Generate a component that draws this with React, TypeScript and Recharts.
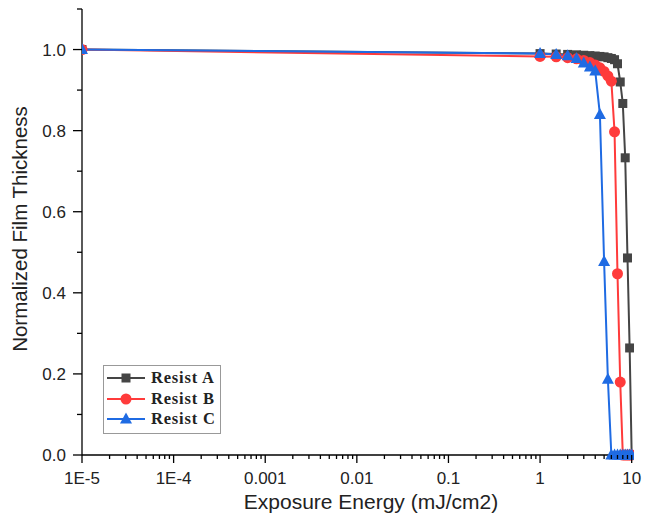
import { LineChart, Line, XAxis, YAxis, Legend } from "recharts"

// exposure energy (mJ/cm2)
const energy = [1e-5, 1, 1.5, 2, 2.5, 3, 3.5, 4, 4.5, 5, 5.5, 6, 6.5, 7, 7.5, 8, 8.5, 9, 9.5, 10]

const resistA = [1, 0.99, 0.989, 0.988, 0.987, 0.986, 0.985, 0.984, 0.983, 0.982, 0.98, 0.978, 0.975, 0.965, 0.92, 0.867, 0.733, 0.486, 0.264, 0]
const resistB = [1, 0.983, 0.982, 0.98, 0.977, 0.973, 0.968, 0.962, 0.955, 0.946, 0.935, 0.922, 0.797, 0.447, 0.18, 0, 0, 0, 0, 0]
const resistC = [1, 0.99, 0.988, 0.985, 0.978, 0.967, 0.957, 0.947, 0.84, 0.477, 0.187, 0, 0, 0, 0, 0, 0, 0, 0, 0]

const majorTicks = [1e-5, 1e-4, 1e-3, 0.01, 0.1, 1, 10]
const majorLabels = ["1E-5", "1E-4", "0.001", "0.01", "0.1", "1", "10"]
const yTicks = [0, 0.1, 0.2, 0.3, 0.4, 0.5, 0.6, 0.7, 0.8, 0.9, 1.0, 1.1]

const COLOR_A = "#454545"
const COLOR_B = "#ff3b3b"
const COLOR_C = "#1f6be3"
const SANS = "'Liberation Sans', Arial, sans-serif"
const SERIF = "'Liberation Serif', 'Times New Roman', serif"

const data = energy.map((e, i) => ({ e, a: resistA[i], b: resistB[i], c: resistC[i] }))

// minor log ticks 1..9 per decade
const xTicks: number[] = []
majorTicks.slice(0, -1).forEach((d) => {
  for (let k = 1; k < 10; k++) xTicks.push(Number((k * d).toPrecision(3)))
})
xTicks.push(10)

function majorLabel(v: number) {
  const i = majorTicks.findIndex((m) => Math.abs(v - m) / m < 1e-6)
  return i >= 0 ? majorLabels[i] : null
}

function XTick(props: any) {
  const { x, y, payload } = props
  const label = majorLabel(payload.value)
  return (
    <g>
      <line x1={x} y1={y} x2={x} y2={y + (label ? 8 : 4)} stroke="#000" strokeWidth={1.3} />
      {label && (
        <text x={x} y={y + 29} textAnchor="middle" fontSize={17} fontFamily={SANS} fill="#222">
          {label}
        </text>
      )}
    </g>
  )
}

function YTick(props: any) {
  const { x, y, payload } = props
  const i = Math.round(payload.value * 10)
  const major = i % 2 === 0
  return (
    <g>
      <line x1={x} y1={y} x2={x - (major ? 9 : 5)} y2={y} stroke="#000" strokeWidth={1.3} />
      {major && (
        <text x={x - 16} y={y + 6} textAnchor="end" fontSize={17} fontFamily={SANS} fill="#222">
          {(i / 10).toFixed(1)}
        </text>
      )}
    </g>
  )
}

const squareDot = (props: any) => (
  <rect key={`a${props.index}`} x={props.cx - 4.5} y={props.cy - 4.5} width={9} height={9} fill={COLOR_A} />
)
const circleDot = (props: any) => (
  <circle key={`b${props.index}`} cx={props.cx} cy={props.cy} r={5.5} fill={COLOR_B} />
)
const triangleDot = (props: any) => (
  <polygon
    key={`c${props.index}`}
    points={`${props.cx},${props.cy - 6.5} ${props.cx - 6},${props.cy + 4.5} ${props.cx + 6},${props.cy + 4.5}`}
    fill={COLOR_C}
  />
)

const series = [
  { name: "Resist A", color: COLOR_A, shape: "square" },
  { name: "Resist B", color: COLOR_B, shape: "circle" },
  { name: "Resist C", color: COLOR_C, shape: "triangle" },
]

function LegendBox() {
  return (
    <div
      style={{
        border: "1px solid #999",
        background: "#fff",
        width: 116,
        padding: "2px 0 3px 0",
      }}
    >
      {series.map((s) => (
        <div key={s.name} style={{ display: "flex", alignItems: "center", height: 20.5 }}>
          <svg width={44} height={14} style={{ marginLeft: 2 }}>
            <line x1={1} y1={7} x2={39} y2={7} stroke={s.color} strokeWidth={2} />
            {s.shape === "square" && <rect x={15.5} y={2.5} width={9} height={9} fill={s.color} />}
            {s.shape === "circle" && <circle cx={20} cy={7} r={5.5} fill={s.color} />}
            {s.shape === "triangle" && <polygon points="20,0.5 14,11.5 26,11.5" fill={s.color} />}
          </svg>
          <span
            style={{
              fontFamily: SERIF,
              fontWeight: "bold",
              fontSize: 16.5,
              letterSpacing: 0.8,
              color: "#222",
              marginLeft: 1,
              whiteSpace: "nowrap",
            }}
          >
            {s.name}
          </span>
        </div>
      ))}
    </div>
  )
}

export default function App() {
  return (
    <div style={{ position: "absolute", left: 0, top: 0, width: 645, height: 526, background: "#fff" }}>
      <LineChart width={645} height={526} data={data} margin={{ top: 9, right: 11, left: 0, bottom: 0 }}>
        <XAxis
          dataKey="e"
          type="number"
          scale="log"
          domain={[1e-5, 10.6]}
          allowDataOverflow
          ticks={xTicks}
          interval={0}
          height={71}
          tickSize={0}
          tickMargin={0}
          tickLine={false}
          tick={<XTick />}
          axisLine={{ stroke: "#000", strokeWidth: 1.3 }}
          label={(p: any) => {
            const vb = p.viewBox
            return (
              <text
                x={vb.x + vb.width / 2 + 13}
                y={vb.y + 54}
                textAnchor="middle"
                fontSize={21}
                fontFamily={SANS}
                fill="#222"
              >
                Exposure Energy (mJ/cm2)
              </text>
            )
          }}
        />
        <YAxis
          type="number"
          domain={[0, 1.1]}
          ticks={yTicks}
          interval={0}
          width={82}
          tickSize={0}
          tickMargin={0}
          tickLine={false}
          tick={<YTick />}
          axisLine={{ stroke: "#000", strokeWidth: 1.3 }}
          label={{
            value: "Normalized Film Thickness",
            angle: -90,
            position: "insideLeft",
            offset: 20,
            dy: -3,
            style: { textAnchor: "middle", fontSize: 20.5, fontFamily: SANS, fill: "#222" },
          }}
        />
        <Legend
          layout="vertical"
          align="center"
          verticalAlign="middle"
          content={() => <LegendBox />}
          wrapperStyle={{ left: 103, top: 365, width: 118 }}
        />
        <Line
          type="linear"
          dataKey="a"
          name="Resist A"
          stroke={COLOR_A}
          strokeWidth={2}
          dot={squareDot}
          isAnimationActive={false}
        />
        <Line
          type="linear"
          dataKey="b"
          name="Resist B"
          stroke={COLOR_B}
          strokeWidth={2}
          dot={circleDot}
          isAnimationActive={false}
        />
        <Line
          type="linear"
          dataKey="c"
          name="Resist C"
          stroke={COLOR_C}
          strokeWidth={2}
          dot={triangleDot}
          isAnimationActive={false}
        />
      </LineChart>
    </div>
  )
}
